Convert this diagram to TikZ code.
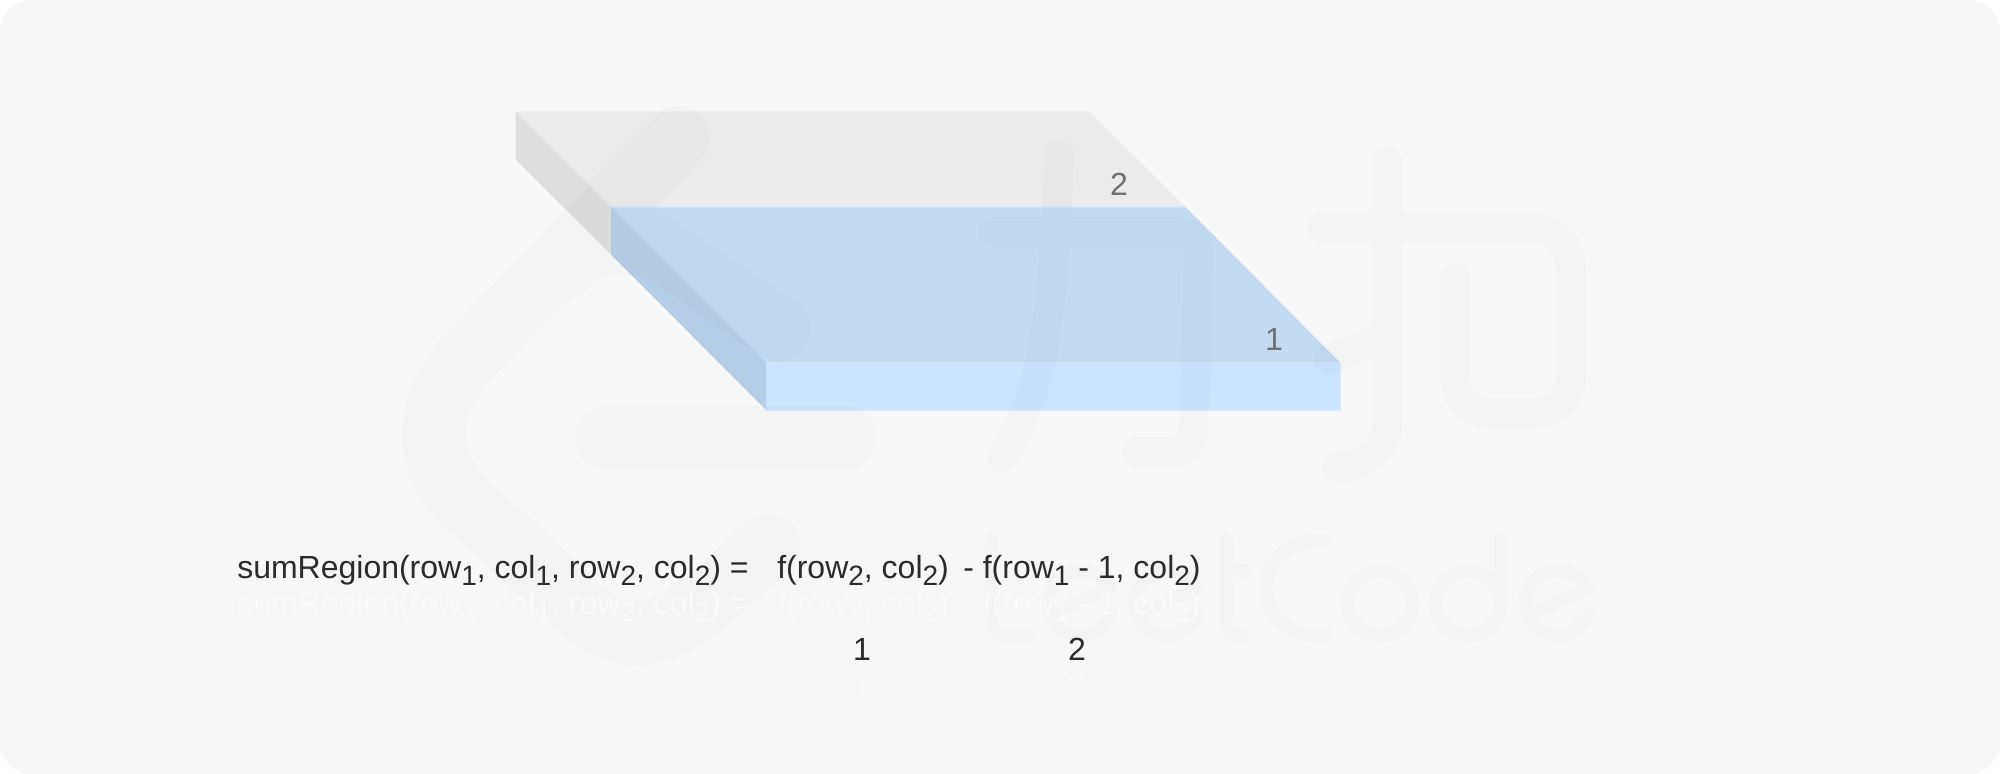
\documentclass[tikz,border=0pt]{standalone}
\usepackage{fontspec}
\setmainfont{Liberation Sans}
\newcommand{\sbx}[1]{\raisebox{-5.4pt}{\fontsize{21}{21}\selectfont #1}}
\newcommand{\lineone}{sumRegion(row\sbx{1}, col\sbx{1}, row\sbx{2}, col\sbx{2}) =}
\newcommand{\linetwo}{f(row\sbx{2}, col\sbx{2})}
\newcommand{\linethree}{- f(row\sbx{1} - 1, col\sbx{2})}
\definecolor{pagebg}{HTML}{F7F7F7}
\definecolor{greytop}{HTML}{EBEBEB}
\definecolor{greyside}{HTML}{DEDEDE}
\definecolor{bluetop}{HTML}{C4DAF1}
\definecolor{bluefront}{HTML}{CBE4FF}
\definecolor{blueside}{HTML}{B6CEE5}
\definecolor{blueedge}{HTML}{D3E8FD}
\definecolor{inktext}{HTML}{2B2B2B}
\definecolor{inklabel}{HTML}{707070}
\tikzset{
  wm/.style={draw=black,draw opacity=0.016,line cap=round,line join=round},
  face/.style={draw=none},
  eqn/.style={anchor=base west,inner sep=0pt,font=\fontsize{24}{24}\selectfont,text=inktext},
  ghost/.style={anchor=base west,inner sep=0pt,font=\fontsize{24}{24}\selectfont,text=white,text opacity=0.55},
  num/.style={anchor=base,inner sep=0pt,font=\fontsize{24}{24}\selectfont,text=inktext},
  ghostnum/.style={anchor=base,inner sep=0pt,font=\fontsize{24}{24}\selectfont,text=white,text opacity=0.55},
  lab/.style={anchor=base,inner sep=0pt,font=\fontsize{24}{24}\selectfont,text=inklabel}
}
\begin{document}
\begin{tikzpicture}[x=0.75pt,y=-0.75pt]
\useasboundingbox (0,0) rectangle (2000,774);
\fill[white] (0,0) rectangle (2000,774);
\fill[pagebg,rounded corners=24pt] (0,0) rectangle (2000,774);
% slab
\coordinate (A) at (515.5,111.5);
\coordinate (B) at (1089.5,111.5);
\coordinate (C) at (611,207);
\coordinate (D) at (1185.5,207);
\coordinate (E) at (766,362.5);
\coordinate (F) at (1340,362.5);
\coordinate (G) at (766,410);
\coordinate (H) at (1340,410);
\coordinate (Ap) at (515.5,159.5);
\coordinate (Cp) at (611,254.5);
\fill[greytop,face] (A) -- (B) -- (D) -- (C) -- cycle;
\fill[greyside,face] (A) -- (C) -- (Cp) -- (Ap) -- cycle;
\fill[bluetop,face] (C) -- (D) -- (F) -- (E) -- cycle;
\fill[bluefront,face] (E) -- (F) -- (H) -- (G) -- cycle;
\fill[blueside,face] (C) -- (E) -- (G) -- (Cp) -- cycle;
\draw[blueedge,line width=0.8pt,draw opacity=0.6] (C) -- (D);
\draw[blueedge,line width=0.8pt] (F) -- (H) -- (G);
% watermark: logo
\draw[wm,line width=48pt]
  (678,138) -- (472,353)
  .. controls (444,383) and (434,408) .. (434,435)
  .. controls (434,470) and (452,490) .. (474,511)
  -- (555,585)
  .. controls (582,611) and (604,633) .. (634,633)
  .. controls (662,633) and (684,621) .. (707,601)
  -- (768,546)
  (607,212) -- (778,329)
  (562,268) .. controls (582,245) and (625,232) .. (665,252);
\draw[wm,line width=48.5pt] (608,438) -- (844,438);
% watermark: characters
\draw[wm,line width=22.5pt]
  (992,232) -- (1178,232) .. controls (1192,232) and (1199,240) .. (1199,254)
  -- (1194,425) .. controls (1193,442) and (1186,452) .. (1170,452) -- (1137,452)
  (1059,155) -- (1055,247) .. controls (1048,340) and (1038,400) .. (1002,457)
  (1322,227) -- (1527,227) .. controls (1556,227) and (1571,245) .. (1571,275)
  -- (1571,372) .. controls (1571,400) and (1556,414) .. (1530,414) -- (1497,414)
  .. controls (1470,414) and (1455,400) .. (1455,372) -- (1455,278)
  (1387,162) -- (1387,420) .. controls (1387,450) and (1367,465) .. (1337,467)
  (1328,360) -- (1387,335);
% watermark: word
\draw[wm,line width=10pt]
  (991,540) -- (991,618) .. controls (991,630) and (998,636) .. (1010,636) -- (1030,636)
  (1226,540) -- (1226,618) .. controls (1226,630) and (1231,636) .. (1243,636)
  (1226,570) -- (1245,570)
  (1326,541.6) -- (1313,541.6) arc[start angle=90,end angle=270,radius=35pt] -- (1326,635)
  (1380,603) circle[radius=24.4pt]
  (1468,603) circle[radius=24.4pt]
  (1501,540) -- (1501,603)
  (1532,613) -- (1589,588.2)
  (1587,588.2) arc[start angle=27,end angle=338,radius=24.4pt]
  (1141,613) -- (1198,588.2)
  (1196,588.2) arc[start angle=27,end angle=338,radius=24.4pt]
  (1054,613) -- (1111,588.2)
  (1109,588.2) arc[start angle=27,end angle=338,radius=24.4pt];
% text
\node[lab] (labtwo) at (1119,195) {2};
\node[lab] (labone) at (1274,350) {1};
\node[ghost] (ga) at (237,614) {\lineone};
\node[ghost] (gb) at (777,614) {\linetwo};
\node[ghost] (gc) at (963,614) {\linethree};
\node[ghostnum] (gone) at (862,696) {1};
\node[ghostnum] (gtwo) at (1077,696) {2};
\node[eqn] (ea) at (237,578) {\lineone};
\node[eqn] (eb) at (777,578) {\linetwo};
\node[eqn] (ec) at (963,578) {\linethree};
\node[num] (none) at (862,660) {1};
\node[num] (ntwo) at (1077,660) {2};
\end{tikzpicture}
\end{document}
